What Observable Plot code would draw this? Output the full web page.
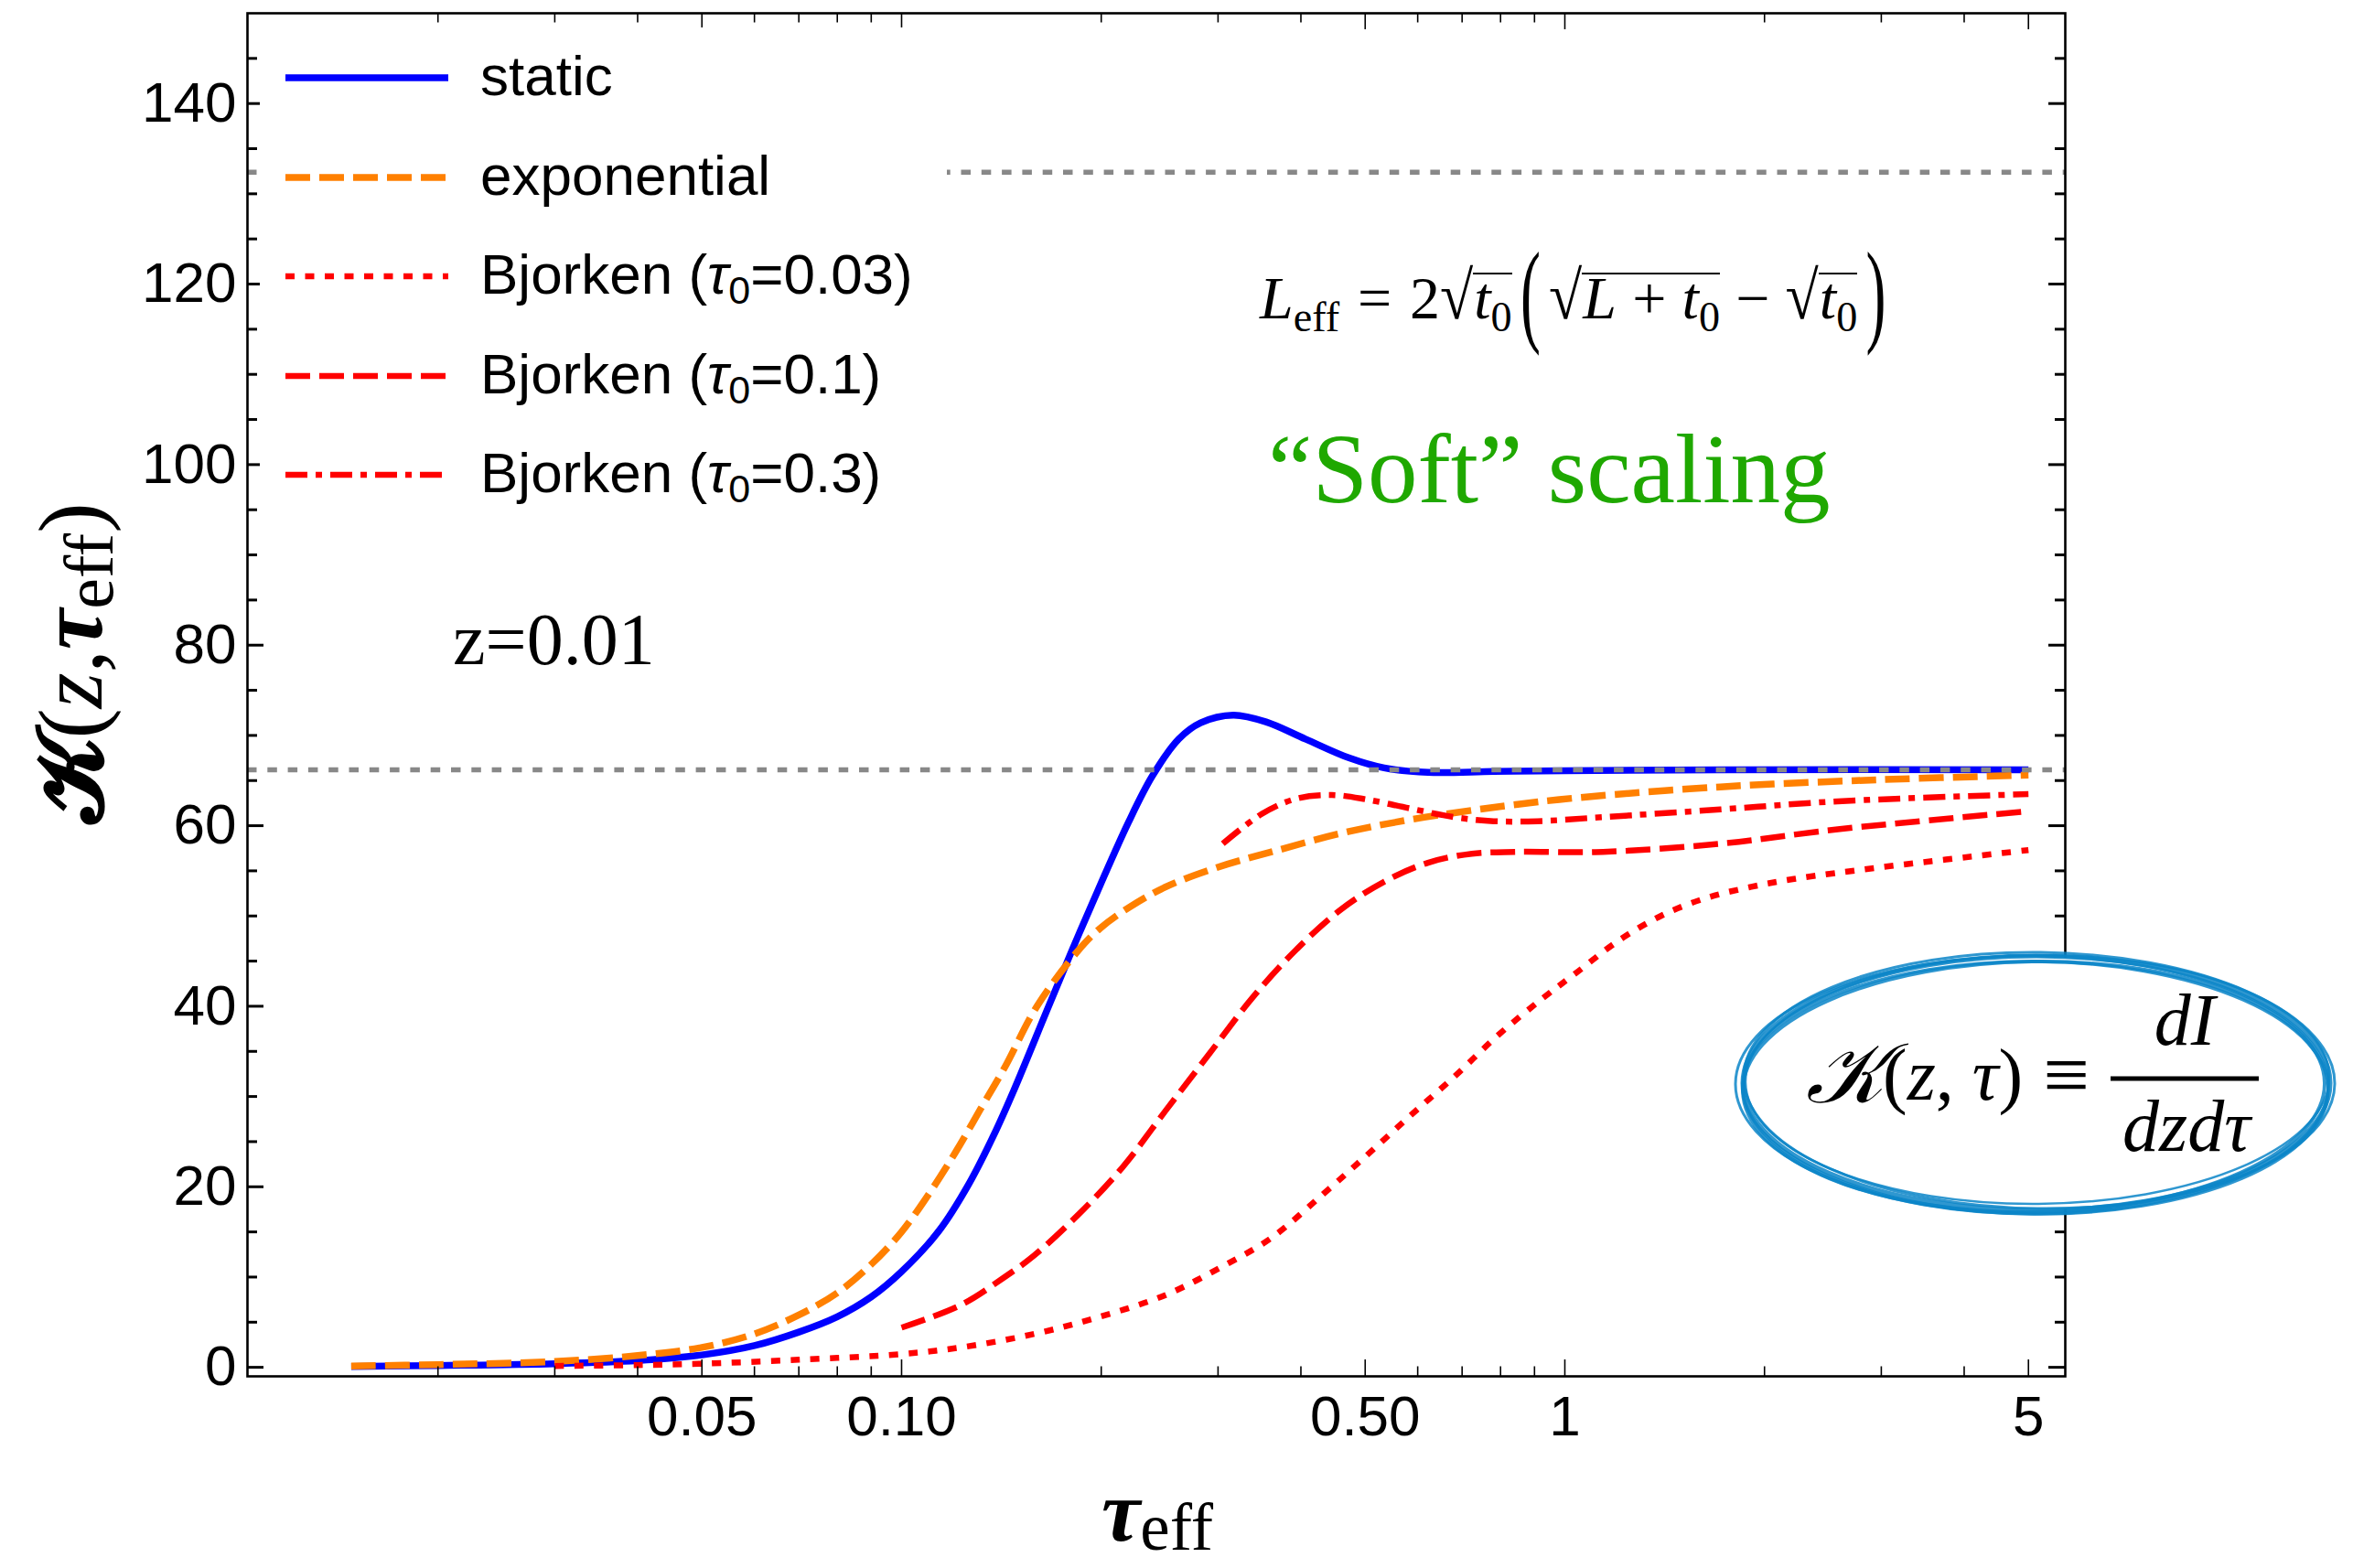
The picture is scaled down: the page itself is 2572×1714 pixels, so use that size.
<!DOCTYPE html>
<html>
<head>
<meta charset="utf-8">
<script src="https://cdn.jsdelivr.net/npm/d3@7"></script>
<script src="https://cdn.jsdelivr.net/npm/@observablehq/plot@0.6"></script>
<style>
html,body{margin:0;padding:0;background:#fff;}
#wrap{position:relative;width:2572px;height:1714px;overflow:hidden;background:#fff;}
#wrap > svg{position:absolute;left:0;top:0;}
.math{position:absolute;font-family:"Liberation Serif","Times New Roman",serif;white-space:nowrap;line-height:1;color:#000;}
.math .sub{font-size:70%;position:relative;top:0.3em;font-style:normal;}
.math .ov{display:inline-block;line-height:0.8em;border-top:2.5px solid #000;padding-left:1px;}
.math .bp{display:inline-block;transform:scaleY(1.9);transform-origin:50% 59%;margin:0 0.14em;}
.math .sq{display:inline-block;transform:scaleY(1.12);transform-origin:50% 80%;}
.math .op{margin:0 0.3em;}
.math .op2{margin:0 0.26em;}
</style>
</head>
<body>
<div id="wrap"></div>
<script>
// ---------- data ----------
const seriesNames = ["static", "exponential", "Bjorken (τ0=0.03)", "Bjorken (τ0=0.1)", "Bjorken (τ0=0.3)"];

const staticTau = [0.0148, 0.02, 0.03, 0.04, 0.05, 0.06, 0.07, 0.08, 0.09, 0.1, 0.1138, 0.1265, 0.1387, 0.1475, 0.1662, 0.18, 0.1928, 0.2199, 0.2388, 0.2617, 0.2824, 0.3163, 0.3544, 0.4064, 0.4732, 0.534, 0.6219, 0.781, 1.0, 1.716, 5.0];
const staticK   = [0.1, 0.2, 0.4, 0.74, 1.37, 2.4, 3.9, 5.6, 7.8, 10.6, 15.1, 20.4, 26.2, 30.6, 39.8, 45.9, 51.0, 60.4, 65.5, 69.6, 71.4, 72.25, 71.5, 69.6, 67.5, 66.4, 65.9, 66.0, 66.1, 66.2, 66.2];

const expTau = [0.0148, 0.02, 0.03, 0.04, 0.05, 0.06, 0.07, 0.08, 0.09, 0.1, 0.1104, 0.121, 0.1315, 0.143, 0.16, 0.1838, 0.199, 0.2198, 0.2499, 0.2998, 0.3654, 0.4593, 0.5767, 0.7242, 0.981, 1.716, 3.0, 5.0];
const expK   = [0.15, 0.3, 0.64, 1.3, 2.2, 3.7, 5.8, 8.25, 11.4, 15.0, 19.4, 24.0, 28.6, 33.2, 40.0, 46.0, 48.6, 50.9, 53.2, 55.4, 57.2, 59.15, 60.6, 61.7, 62.9, 64.3, 65.1, 65.6];

const bj003Tau = [0.03, 0.04, 0.05, 0.07, 0.1, 0.1228, 0.1585, 0.199, 0.2499, 0.2998, 0.3604, 0.4322, 0.5029, 0.5853, 0.6813, 0.7933, 0.9231, 1.036, 1.207, 1.404, 1.635, 1.903, 2.216, 3.0, 5.0];
const bj003K   = [0.15, 0.25, 0.4, 0.84, 1.47, 2.2, 3.7, 5.6, 8.0, 10.9, 14.3, 19.2, 23.5, 27.9, 32.2, 36.8, 40.8, 43.6, 47.3, 50.1, 52.0, 53.2, 54.1, 55.4, 57.3];

const bj01Tau = [0.1, 0.1228, 0.143, 0.1585, 0.1846, 0.215, 0.2499, 0.2908, 0.3385, 0.394, 0.4593, 0.534, 0.6219, 0.7242, 0.843, 1.142, 1.716, 2.579, 5.0];
const bj01K   = [4.4, 6.9, 10.0, 12.4, 16.9, 22.1, 28.4, 34.7, 41.0, 46.3, 50.7, 53.8, 55.9, 56.9, 57.1, 57.1, 58.0, 59.6, 61.6];

const bj03Tau = [0.305, 0.3491, 0.394, 0.4455, 0.5029, 0.5853, 0.6813, 0.781, 0.9092, 1.142, 1.716, 2.579, 5.0];
const bj03K   = [58.0, 61.3, 63.0, 63.4, 62.9, 61.9, 60.95, 60.5, 60.5, 60.95, 61.8, 62.7, 63.5];

const refLevels = [66.2, 132.4];          // grey dotted reference lines

const yMajor = [0, 20, 40, 60, 80, 100, 120, 140];
const yMinor = [5, 10, 15, 25, 30, 35, 45, 50, 55, 65, 70, 75, 85, 90, 95, 105, 110, 115, 125, 130, 135, 145];
const xMajor = [0.05, 0.1, 0.5, 1, 5];
const xMajorLabels = ["0.05", "0.10", "0.50", "1", "5"];
const xMinor = [0.02, 0.03, 0.04, 0.06, 0.07, 0.08, 0.09, 0.2, 0.3, 0.4, 0.6, 0.7, 0.8, 0.9, 2, 3, 4];

// ---------- styles ----------
const colors = ["#0000ff", "#ff8000", "#ff0000", "#ff0000", "#ff0000"];
const widths = [7.5, 7.5, 6.5, 6.5, 6.5];
const dashes = [null, "27,10", "10,11.5", "27,10", "24,9,7,9"];

const W = 2572, H = 1714, mL = 270, mR = 315, mT = 14, mB = 210;
const pw = W - mL - mR, ph = H - mT - mB;

const allTau = [staticTau, expTau, bj003Tau, bj01Tau, bj03Tau];
const allK = [staticK, expK, bj003K, bj01K, bj03K];
const rows = allTau.map((ts, i) => ts.map((t, j) => ({tau: t, K: allK[i][j], series: seriesNames[i]})));

const marks = [];
rows.forEach((r, i) => marks.push(Plot.line(r, {
  x: "tau", y: "K", stroke: colors[i], strokeWidth: widths[i],
  strokeDasharray: dashes[i], strokeLinecap: "butt", curve: "catmull-rom"
})));
marks.push(Plot.ruleY(refLevels, {y: d => d, stroke: "#888888", strokeWidth: 5.5, strokeDasharray: "10.5,11.8", strokeLinecap: "butt"}));
marks.push(Plot.frame({stroke: "black", strokeWidth: 2.6}));
// inward frame ticks on all four sides
marks.push(Plot.tickY(yMajor, {y: d => d, insetRight: pw - 18, stroke: "black", strokeWidth: 3}));
marks.push(Plot.tickY(yMajor, {y: d => d, insetLeft: pw - 18, stroke: "black", strokeWidth: 3}));
marks.push(Plot.tickY(yMinor, {y: d => d, insetRight: pw - 11, stroke: "black", strokeWidth: 3}));
marks.push(Plot.tickY(yMinor, {y: d => d, insetLeft: pw - 11, stroke: "black", strokeWidth: 3}));
marks.push(Plot.tickX(xMajor, {x: d => d, insetTop: ph - 18, stroke: "black", strokeWidth: 1.6}));
marks.push(Plot.tickX(xMajor, {x: d => d, insetBottom: ph - 18, stroke: "black", strokeWidth: 1.6}));
marks.push(Plot.tickX(xMinor, {x: d => d, insetTop: ph - 10.5, stroke: "black", strokeWidth: 1.6}));
marks.push(Plot.tickX(xMinor, {x: d => d, insetBottom: ph - 10.5, stroke: "black", strokeWidth: 1.6}));
marks.push(Plot.axisY({ticks: yMajor, tickSize: 0, tickPadding: 12, fontSize: 62, label: null, tickFormat: d => String(d)}));
// x tick labels (explicit text so every labelled tick shows)
marks.push(Plot.text(xMajor, {x: d => d, frameAnchor: "bottom", text: (d, i) => xMajorLabels[i], dy: 20, lineAnchor: "top", fontSize: 62, fill: "black"}));

const chart = Plot.plot({
  width: W, height: H,
  marginLeft: mL, marginRight: mR, marginTop: mT, marginBottom: mB,
  x: {type: "log", domain: [0.010323, 5.682], axis: null},
  y: {domain: [-1, 150]},
  style: {fontFamily: "'Liberation Sans', Arial, Helvetica, sans-serif", fontSize: "62px", color: "black", background: "white", overflow: "visible"},
  marks
});
const wrap = document.getElementById("wrap");
wrap.appendChild(chart);

// ---------- overlay: legend, labels, annotations ----------
const legendY = [85, 194, 302, 411, 519];
function legendLabel(name) {
  const m = name.match(/^(.*)τ0(.*)$/);
  if (!m) return name;
  return `${m[1]}<tspan font-style="italic">τ</tspan><tspan font-size="43" dy="11">0</tspan><tspan dy="-11">${m[2]}</tspan>`;
}
let legendSvg = `<rect x="284" y="30" width="751" height="528" fill="#fff"/>`;
seriesNames.forEach((n, i) => {
  legendSvg += `<line x1="312" x2="490" y1="${legendY[i]}" y2="${legendY[i]}" stroke="${colors[i]}" stroke-width="${widths[i]}" ${dashes[i] ? `stroke-dasharray="${dashes[i]}"` : ""}/>`;
  legendSvg += `<text x="525" y="${legendY[i] + 19}" font-family="'Liberation Sans', Arial, sans-serif" font-size="62">${legendLabel(n)}</text>`;
});

const serif = "'Liberation Serif','Times New Roman',serif";
const ellipses = [
  [2226, 1184, 321, 139, 5, 0], [2223, 1188, 318, 137, 4, -0.8], [2229, 1181, 323, 140, 3, 0.7],
  [2225, 1189, 320, 138, 3.5, 0.4], [2227, 1180, 319, 136, 2.5, -0.5], [2221, 1186, 324, 141, 3, 0.2]
];
let ell = `<ellipse cx="2226" cy="1184" rx="320" ry="138" fill="#fff"/>`;
ellipses.forEach(e => {
  ell += `<ellipse cx="${e[0]}" cy="${e[1]}" rx="${e[2]}" ry="${e[3]}" fill="none" stroke="#0a85c8" stroke-width="${e[4]}" stroke-opacity="0.85" transform="rotate(${e[5]} 2226 1184)"/>`;
});

const overlay = `
<svg width="${W}" height="${H}" xmlns="http://www.w3.org/2000/svg" style="position:absolute;left:0;top:0;pointer-events:none">
${legendSvg}
<g transform="translate(111,725) rotate(-90)">
  <text text-anchor="middle" font-family="${serif}" font-size="100"><tspan font-family="'DejaVu Serif','DejaVu Sans','Noto Sans',serif" font-weight="bold">𝓚</tspan>(<tspan font-style="italic">z</tspan>,<tspan font-style="italic" font-weight="bold">τ</tspan><tspan font-size="76" dy="12">eff</tspan><tspan dy="-12">)</tspan></text>
</g>
<text x="1265" y="1684" text-anchor="middle" font-family="${serif}" font-size="95"><tspan font-style="italic" font-weight="bold">τ</tspan><tspan font-size="73" dy="10">eff</tspan></text>
<text x="495" y="726" font-family="${serif}" font-size="80">z=0.01</text>
<text x="1386" y="549" font-family="${serif}" font-size="109" fill="#1fa800">“Soft” scaling</text>
${ell}
<text x="1974" y="1205" font-family="'DejaVu Serif','DejaVu Sans','Noto Sans',serif" font-size="92" font-style="italic">𝒦</text>
<text x="2058" y="1202" font-family="${serif}" font-size="80">(<tspan font-style="italic">z</tspan>, <tspan font-style="italic">τ</tspan>)</text>
<text x="2259" y="1205" text-anchor="middle" font-family="${serif}" font-size="90">≡</text>
<line x1="2307" x2="2469" y1="1179" y2="1179" stroke="#000" stroke-width="5"/>
<text x="2388" y="1142" text-anchor="middle" font-family="${serif}" font-size="80" font-style="italic">dI</text>
<text x="2390" y="1258" text-anchor="middle" font-family="${serif}" font-size="80" font-style="italic">dzdτ</text>
</svg>`;
wrap.insertAdjacentHTML("beforeend", overlay);

wrap.insertAdjacentHTML("beforeend", `
<div class="math" style="left:1377px;top:293px;font-size:66px;"><i>L</i><span class="sub">eff</span><span class="op">=</span>2<span class="sq">√</span><span class="ov"><i>t</i><span class="sub">0</span></span><span class="bp">(</span><span class="sq">√</span><span class="ov"><i>L</i><span class="op2">+</span><i>t</i><span class="sub">0</span></span><span class="op2">−</span><span class="sq">√</span><span class="ov"><i>t</i><span class="sub">0</span></span><span class="bp">)</span></div>`);
</script>
</body>
</html>
